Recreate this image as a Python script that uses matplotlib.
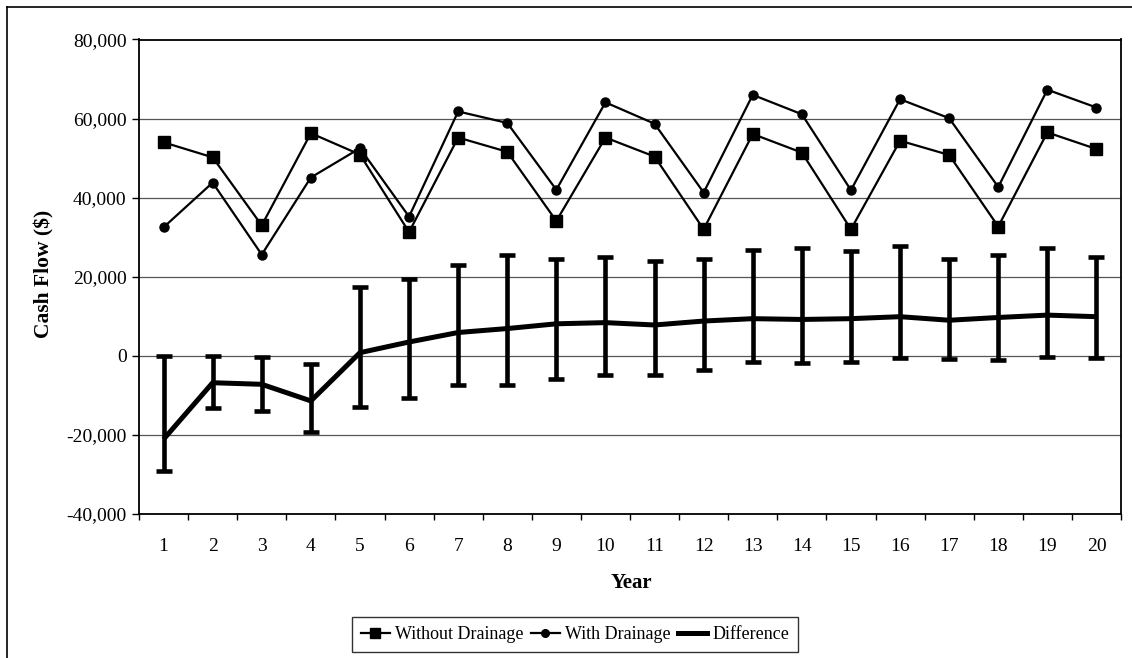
import matplotlib
matplotlib.use("Agg")
import matplotlib.pyplot as plt
from matplotlib.lines import Line2D
import numpy as np

plt.rcParams['font.family'] = ['Liberation Serif', 'DejaVu Serif']

years = list(range(1, 21))
year_labels = [str(y) for y in years]

without_drainage = [54000, 50200, 33000, 56300, 50900, 31300, 55200, 51600, 34100, 55200,
                    50400, 32000, 56100, 51400, 32000, 54400, 50800, 32700, 56500, 52300]
with_drainage = [32500, 43800, 25600, 45100, 52500, 35200, 61800, 58900, 42000, 64100,
                 58700, 41300, 66000, 61100, 41900, 64900, 60100, 42700, 67300, 62800]
difference = [-21100, -6800, -7200, -11400, 800, 3500, 5900, 6900, 8100, 8400,
              7800, 8800, 9400, 9200, 9400, 9900, 9000, 9700, 10300, 9900]
diff_low = [-29000, -13100, -14000, -19300, -12900, -10600, -7400, -7500, -5800, -4800,
            -4800, -3600, -1500, -1700, -1500, -600, -900, -1000, -200, -600]
diff_high = [0, 0, -400, -2000, 17400, 19400, 22900, 25400, 24500, 25000,
             24100, 24500, 26800, 27200, 26400, 27800, 24400, 25500, 27200, 25100]

fig = plt.figure(figsize=(11.32, 6.58), dpi=100)
W, H = 1132, 658
ax = fig.add_axes([139 / W, 1 - 514 / H, (1121 - 139) / W, (514 - 39.5) / H])

x = np.array(years)
ax.plot(x, without_drainage, color='black', lw=1.6, marker='s', ms=8,
        label='Without Drainage', zorder=4)
ax.plot(x, with_drainage, color='black', lw=1.6, marker='o', ms=6.5,
        label='With Drainage', zorder=4)

d = np.array(difference)
lo = d - np.array(diff_low)
hi = np.array(diff_high) - d
ax.errorbar(x, d, yerr=[lo, hi], fmt='none', ecolor='black', elinewidth=3.3,
            capsize=5.5, capthick=3.3, zorder=3)
ax.plot(x, d, color='black', lw=3.6, label='Difference', zorder=3,
        solid_capstyle='butt', solid_joinstyle='round')

ax.set_xlim(0.5, 20.5)
ax.set_ylim(-40000, 80000)
ax.set_yticks(np.arange(-40000, 80001, 20000))
ax.yaxis.set_major_formatter(matplotlib.ticker.FuncFormatter(lambda v, p: f"{int(v):,}"))
ax.set_xticks(x)
ax.set_xticklabels(year_labels)
ax.set_xticks(np.arange(0.5, 21, 1), minor=True)
ax.tick_params(axis='x', which='major', length=0, pad=17, labelsize=14)
ax.tick_params(axis='x', which='minor', length=4, width=1, direction='out')
ax.tick_params(axis='y', which='major', length=5, width=1, direction='out',
               labelsize=14, pad=4)

ax.grid(axis='y', which='major', color='#555555', lw=0.9)
ax.set_axisbelow(True)
for s in ax.spines.values():
    s.set_linewidth(1.3)
    s.set_color('black')

fig.text(44 / W, 1 - 274 / H, 'Cash Flow ($)', rotation=90, ha='center', va='center',
         fontsize=15.5, fontweight='bold')
fig.text(631 / W, 1 - 583 / H, 'Year', ha='center', va='center',
         fontsize=15, fontweight='bold')

handles = [
    Line2D([], [], color='black', lw=1.6, marker='s', ms=7),
    Line2D([], [], color='black', lw=1.6, marker='o', ms=5.5),
    Line2D([], [], color='black', lw=3.6),
]
leg = fig.legend(handles, ['Without Drainage', 'With Drainage', 'Difference'],
                 loc='center', bbox_to_anchor=(575 / W, 1 - 634.5 / H), ncol=3,
                 fontsize=13, frameon=True, fancybox=False, edgecolor='black',
                 handlelength=1.6, handletextpad=0.3, columnspacing=0.4,
                 borderpad=0.5, borderaxespad=0)
leg.get_frame().set_linewidth(1.0)

# outer chart frame
fig.add_artist(Line2D([7 / W, 7 / W], [0, 1 - 7 / H], color='black', lw=1.2,
                      transform=fig.transFigure))
fig.add_artist(Line2D([7 / W, 1], [1 - 7 / H, 1 - 7 / H], color='black', lw=1.2,
                      transform=fig.transFigure))

fig.savefig('out.png', dpi=100)
